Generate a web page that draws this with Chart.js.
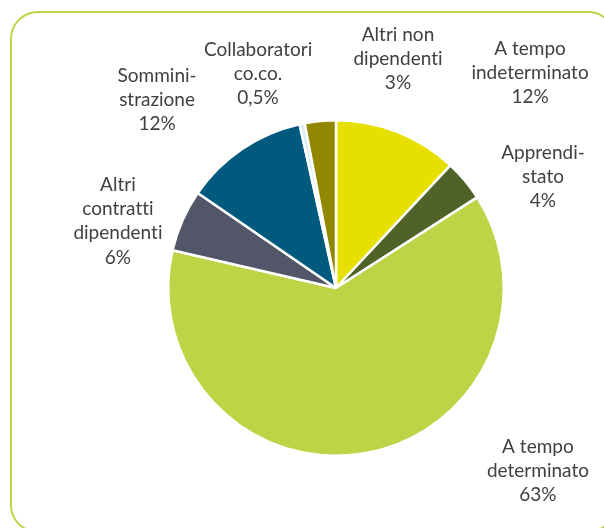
<!DOCTYPE html>
<html>
<head>
<meta charset="utf-8">
<script src="https://cdn.jsdelivr.net/npm/chart.js@4/dist/chart.umd.min.js"></script>
<style>
  html, body { margin: 0; padding: 0; background: #fff; overflow: hidden; }
  #wrap { position: relative; width: 604px; height: 528px; overflow: hidden; }
  #frame { position: absolute; left: 10px; top: 11px; width: 606px; height: 522px;
           border: 2px solid #BED446; border-radius: 28px; box-sizing: border-box; }
  canvas { position: absolute; left: 0; top: 0; font-variant-ligatures: none; }
</style>
</head>
<body>
<div id="wrap">
  <div id="frame"></div>
  <canvas id="c" width="604" height="528"></canvas>
</div>
<script>
const categories = ['A tempo indeterminato', 'Apprendistato', 'A tempo determinato',
  'Altri contratti dipendenti', 'Somministrazione', 'Collaboratori co.co.', 'Altri non dipendenti'];
const labelLines = [['A tempo', 'indeterminato'], ['Apprendi-', 'stato'], ['A tempo', 'determinato'],
  ['Altri', 'contratti', 'dipendenti'], ['Sommini-', 'strazione'], ['Collaboratori', 'co.co.'], ['Altri non', 'dipendenti']];
const values = [12, 4, 63, 6, 12, 0.5, 3];
const colors = ['#E6DF00', '#4F6228', '#BED446', '#535669', '#005A7E', '#D6EEF5', '#918700'];

// label placement relative to pie centre, in units of radius
const labelOffsets = [[1.155, -1.28], [1.232, -0.661], [1.202, 1.089], [-1.298, -0.399],
  [-1.065, -1.119], [-0.464, -1.274], [0.369, -1.363]];

const labelPlugin = {
  id: 'sliceLabels',
  afterDraw(chart) {
    const ctx = chart.ctx;
    const meta = chart.getDatasetMeta(0);
    ctx.save();
    ctx.font = '19px Lato, "Open Sans", sans-serif';
    if ('letterSpacing' in ctx) ctx.letterSpacing = '0.01px';
    ctx.fillStyle = '#404040';
    ctx.textAlign = 'center';
    ctx.textBaseline = 'middle';
    const lh = 24.3;
    meta.data.forEach((arc, i) => {
      const cx = arc.x, cy = arc.y, r = 168;
      const lines = labelLines[i].concat([String(values[i]).replace('.', ',') + '%']);
      const x = cx + labelOffsets[i][0] * r;
      const y0 = cy + labelOffsets[i][1] * r - (lines.length - 1) * lh / 2;
      lines.forEach((t, k) => ctx.fillText(t, x, y0 + k * lh));
    });
    ctx.restore();
  }
};

new Chart(document.getElementById('c'), {
  type: 'pie',
  data: {
    labels: categories,
    datasets: [{ data: values, backgroundColor: colors, borderColor: '#ffffff', borderWidth: 2.5 }]
  },
  options: {
    responsive: false,
    animation: false,
    layout: { padding: { left: 167, right: 99, top: 119, bottom: 71 } },
    plugins: { legend: { display: false }, tooltip: { enabled: false } }
  },
  plugins: [labelPlugin]
});
</script>
</body>
</html>
